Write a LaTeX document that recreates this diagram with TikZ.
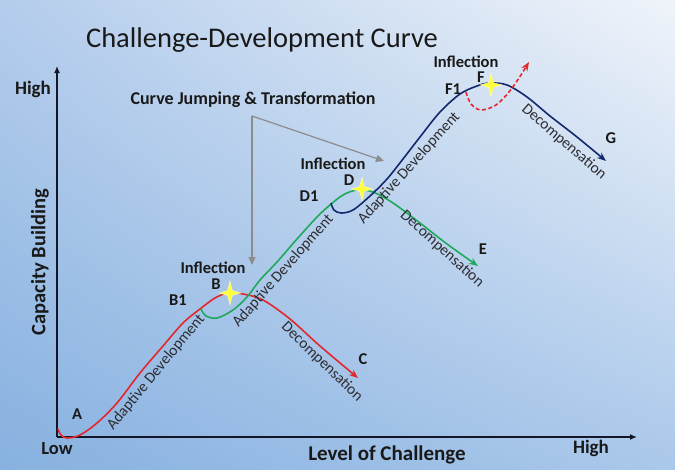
\documentclass[tikz,border=0pt]{standalone}
\usepackage{fontspec}
\setmainfont{Carlito}
\usetikzlibrary{arrows.meta,shadings}
\definecolor{bgTL}{RGB}{180,205,236}
\definecolor{bgTR}{RGB}{240,244,250}
\definecolor{bgBL}{RGB}{135,177,224}
\definecolor{bgBR}{RGB}{170,200,234}
\definecolor{cred}{RGB}{226,40,44}
\definecolor{cgreen}{RGB}{30,170,90}
\definecolor{cblue}{RGB}{20,40,110}
\definecolor{cgray}{RGB}{140,140,140}
\definecolor{ctext}{RGB}{25,25,25}
\definecolor{caxis}{RGB}{20,22,40}
\definecolor{calong}{RGB}{45,45,50}
\definecolor{cstar}{RGB}{255,255,60}
\begin{document}
\begin{tikzpicture}[x=1pt,y=-1pt,
  lbl/.style={font=\fontsize{16.5}{18}\selectfont\bfseries, text=ctext, inner sep=0pt},
  along/.style={font=\fontsize{15.5}{17}\selectfont, text=calong, inner sep=0pt},
  curve/.style={line width=1.6pt, smooth, tension=0.55},
  axis/.style={caxis, line width=1.8pt, -{Latex[length=7pt,width=6pt]}},
  pointer/.style={cgray, line width=1.2pt, -{Triangle[length=8pt,width=7pt]}},
  starshape/.style={fill=cstar, draw=white!85!yellow, line width=0.3pt}]
% background
\shade[upper left=bgTL, upper right=bgTR, lower left=bgBL, lower right=bgBR] (0,0) rectangle (675,469);
\useasboundingbox (0,0) rectangle (675,469);
% title
\node[font=\fontsize{28.5}{31}\selectfont, text=ctext] (title) at (262,40) {Challenge-Development Curve};
% axes
\coordinate (origin) at (57,437);
\coordinate (ytop) at (57,66);
\coordinate (xend) at (637,437);
\draw[axis] (origin) -- (ytop);
\draw[axis] (origin) -- (xend);
\node[lbl, font=\fontsize{19}{21}\selectfont\bfseries] (yhigh) at (33,89) {High};
\node[lbl, font=\fontsize{18.5}{21}\selectfont\bfseries] (xlow) at (57,449) {Low};
\node[lbl, font=\fontsize{19}{21}\selectfont\bfseries] (xhigh) at (591,448) {High};
\node[lbl, font=\fontsize{21}{23}\selectfont\bfseries] (xlabel) at (387,455) {Level of Challenge};
\node[lbl, font=\fontsize{20.5}{23}\selectfont\bfseries, rotate=90] (ylabel) at (40,262) {Capacity Building};
% curves
\draw[curve, cred, -{Stealth[length=9pt,width=7pt]}] plot coordinates {(58,429) (61,435) (67,438) (80,435) (97,423) (117,403) (140,373) (163,346) (183,323) (200,309) (215,298) (228,293) (243,294) (263,300) (290,319) (320,346) (358,378)};
\draw[curve, cgreen, -{Stealth[length=9pt,width=7pt]}] plot coordinates {(201,309) (206,316) (217,318) (233,310) (247,297) (260,280) (277,262) (297,239) (317,217) (330,205) (343,195) (357,190) (373,192) (393,203) (420,223) (447,244) (478,266)};
\draw[curve, cblue, -{Stealth[length=9pt,width=7pt]}] plot coordinates {(331,203) (334,210) (341,213) (353,210) (370,196) (387,179) (403,159) (420,137) (440,112) (460,94) (477,86) (490,83) (507,85) (527,97) (550,116) (577,137) (606,161)};
\draw[curve, cred, dashed, dash pattern=on 4pt off 2.5pt, -{Stealth[length=9pt,width=7pt]}] plot coordinates {(466,92) (471,104) (481,110) (496,105) (509,92) (519,78) (529,62)};
% stars
\foreach \n/\cx/\cy in {starB/230/293, starD/362/189, starF/491/85}{
  \filldraw[starshape] (\cx,\cy) ++(0,-12) -- ++(2.4,9.6) -- ++(8.6,2.4) -- ++(-8.6,2.4) -- ++(-2.4,9.6) -- ++(-2.4,-9.6) -- ++(-8.6,-2.4) -- ++(8.6,-2.4) -- cycle;
  \coordinate (\n) at (\cx,\cy);
}
% point labels
\node[lbl] (A) at (77,414) {A};
\node[lbl] (B1) at (178,300) {B1};
\node[lbl] (B) at (216,284) {B};
\node[lbl] (infB) at (213,268) {Inflection};
\node[lbl] (C) at (363,359) {C};
\node[lbl] (D1) at (309,196) {D1};
\node[lbl] (D) at (349,180) {D};
\node[lbl] (infD) at (333,164) {Inflection};
\node[lbl] (E) at (483,249) {E};
\node[lbl] (F1) at (453,89) {F1};
\node[lbl] (F) at (481,77) {F};
\node[lbl] (infF) at (466,62) {Inflection};
\node[lbl] (G) at (611,138) {G};
% curve texts
\node[along, rotate=50.5] (adR) at (156,372) {Adaptive Development};
\node[along, rotate=-44] (decR) at (322,362) {Decompensation};
\node[along, rotate=48.7] (adG) at (283,271) {Adaptive Development};
\node[along, rotate=-42] (decG) at (442,249) {Decompensation};
\node[along, rotate=48] (adB) at (409,168) {Adaptive Development};
\node[along, rotate=-41] (decB) at (564,142) {Decompensation};
% curve jumping
\node[lbl, font=\fontsize{18}{20}\selectfont\bfseries] (cjt) at (253,100) {Curve Jumping \& Transformation};
\coordinate (fork) at (252,116);
\coordinate (downtip) at (252,265);
\coordinate (righttip) at (384,161);
\draw[pointer] (fork) -- (downtip);
\draw[pointer] (fork) -- (righttip);
\end{tikzpicture}
\end{document}
